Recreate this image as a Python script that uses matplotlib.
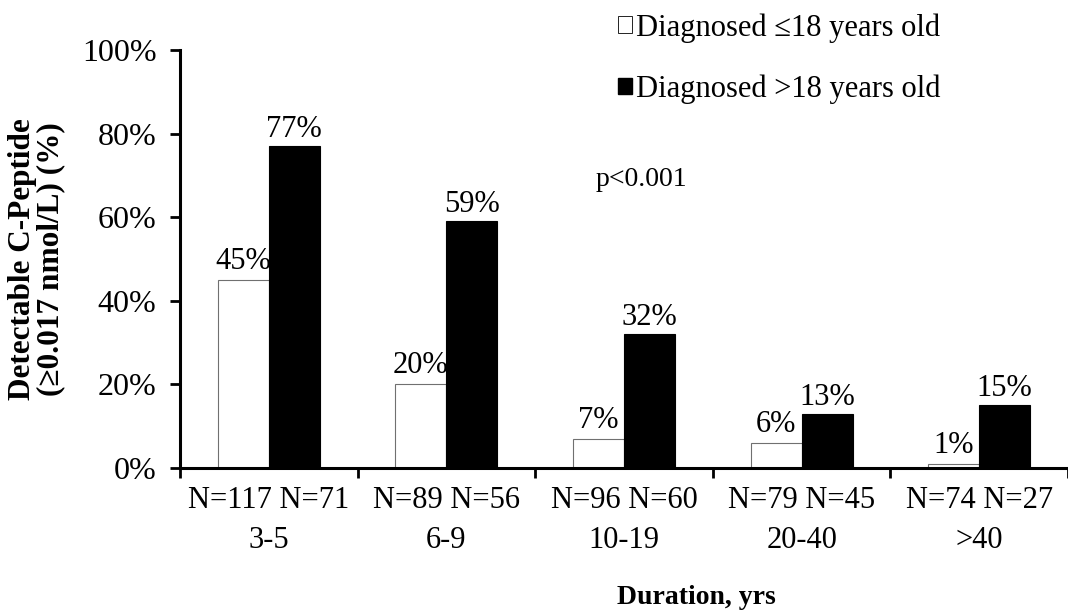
import matplotlib
matplotlib.use("Agg")
import matplotlib.pyplot as plt
import numpy as np
from matplotlib.patches import Patch
from matplotlib.ticker import FixedLocator, FuncFormatter

plt.rcParams['font.family'] = ['Liberation Serif', 'DejaVu Serif']

durations = ["3-5", "6-9", "10-19", "20-40", ">40"]
n_young = [117, 89, 96, 79, 74]
n_old = [71, 56, 60, 45, 27]
pct_young = [45, 20, 7, 6, 1]
pct_old = [77, 59, 32, 13, 15]
series_labels = ["Diagnosed \u226418 years old", "Diagnosed >18 years old"]
yticks = [0, 20, 40, 60, 80, 100]

fig = plt.figure(figsize=(10.68, 6.14), dpi=100)
ax = fig.add_axes([180/1068, 146/614, 888/1068, 418/614])

x = np.arange(len(durations))
w = 0.287
ax.bar(x - w/2, pct_young, width=w, color='white', edgecolor='#707070', linewidth=0.8)
ax.bar(x + w/2, pct_old, width=w, color='black', edgecolor='black', linewidth=0.8)

for xi, v in zip(x, pct_young):
    ax.text(xi - w/2, v + 1.0, f"{v}%", ha='center', va='bottom', fontsize=22)
for xi, v in zip(x, pct_old):
    ax.text(xi + w/2, v + 0.5, f"{v}%", ha='center', va='bottom', fontsize=22)

ax.set_xlim(-0.5, len(durations) - 0.5)
ax.set_ylim(0, 100)
ax.set_yticks(yticks)
ax.yaxis.set_major_formatter(FuncFormatter(lambda v, p: f"{int(v)}%"))
ax.tick_params(axis='y', labelsize=23, length=7, width=2, direction='out', pad=10)

ax.xaxis.set_major_locator(FixedLocator(np.arange(len(durations) + 1) - 0.5))
ax.xaxis.set_minor_locator(FixedLocator(x))
ax.set_xticklabels([])
ax.set_xticklabels([f"N={a} N={b}\n{d}" for a, b, d in zip(n_young, n_old, durations)],
                   minor=True, fontsize=22, linespacing=1.5)
ax.tick_params(axis='x', which='major', length=7, width=2, direction='out')
ax.tick_params(axis='x', which='minor', length=0, pad=13)

for s in ['top', 'right']:
    ax.spines[s].set_visible(False)
for s in ['left', 'bottom']:
    ax.spines[s].set_linewidth(2.2)

ax.set_ylabel("Detectable C-Peptide\n(\u22650.017 nmol/L) (%)", fontsize=22.5,
              fontweight='bold', linespacing=0.95, labelpad=12)
ax.set_xlabel("Duration, yrs", fontsize=20, fontweight='bold')
ax.xaxis.set_label_coords(0.581, -0.31)
ax.xaxis.label.set_va('center')

ax.text(1.84, 69, "p<0.001", fontsize=20, ha='left', va='center')

handles = [Patch(facecolor='white', edgecolor='black', linewidth=0.6),
           Patch(facecolor='black', edgecolor='black')]
fig.legend(handles, series_labels, loc='upper left', bbox_to_anchor=(615/1068, 1 - 10/614),
           frameon=False, fontsize=22, handlelength=0.45, handleheight=0.45,
           handletextpad=0.15, labelspacing=1.05, borderaxespad=0.0, borderpad=0.1)

fig.savefig("out.png", dpi=100)
